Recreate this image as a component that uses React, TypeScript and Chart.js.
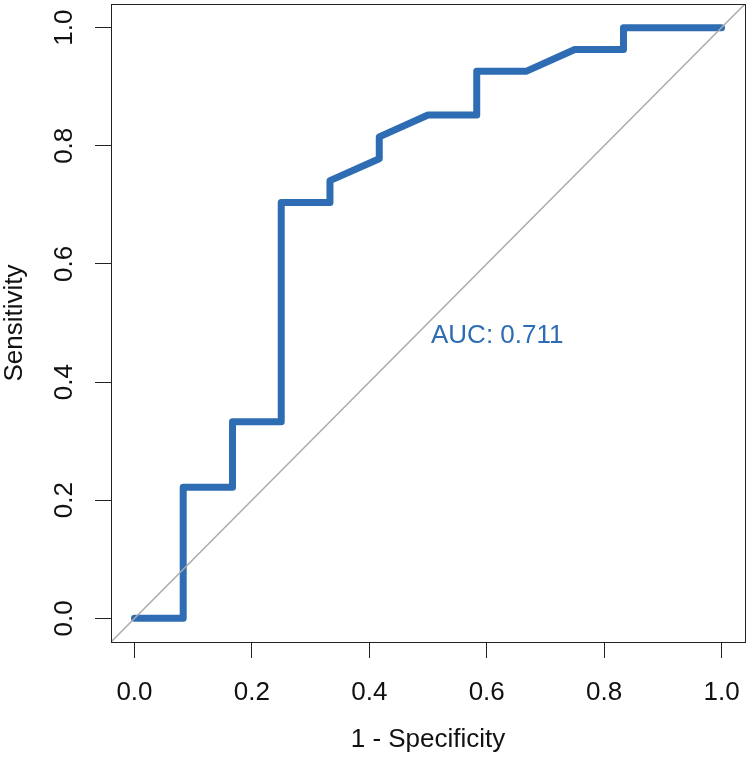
import { useEffect, useRef } from 'react';
import { Chart, registerables } from 'chart.js';

Chart.register(...registerables);

// ROC curve points: x = 1 - Specificity, y = Sensitivity
const FPR = [0, 0.083, 0.083, 0.167, 0.167, 0.25, 0.25, 0.333, 0.333, 0.417, 0.417, 0.5, 0.583, 0.583, 0.667, 0.75, 0.833, 0.833, 1];
const TPR = [0, 0, 0.222, 0.222, 0.333, 0.333, 0.704, 0.704, 0.741, 0.778, 0.815, 0.852, 0.852, 0.926, 0.926, 0.963, 0.963, 1, 1];

// chance diagonal, drawn edge to edge of the plot box
const DIAG_X = [-0.04, 1.04];
const DIAG_Y = [-0.04, 1.04];

const TICKS = [0, 0.2, 0.4, 0.6, 0.8, 1.0];
const TICK_LABELS = ['0.0', '0.2', '0.4', '0.6', '0.8', '1.0'];
const AXIS_MIN = -0.04;
const AXIS_MAX = 1.04;

const X_TITLE = '1 - Specificity';
const Y_TITLE = 'Sensitivity';
const AUC_LABEL = 'AUC: 0.711';
const AUC_POS = [0.5, 0.5];

const FONT = '"Liberation Sans", Arial, Helvetica, sans-serif';
const FONT_SIZE = 26;
const ROC_COLOR = '#2E6DB4';

const decorPlugin = {
  id: 'decor',
  afterDraw(chart: any) {
    const { ctx, chartArea, scales } = chart;
    const { left, right, top, bottom } = chartArea;
    const x = scales.x;
    const y = scales.y;
    ctx.save();
    // box
    ctx.strokeStyle = '#222';
    ctx.lineWidth = 1;
    ctx.strokeRect(left + 0.5, top + 0.5, right - left, bottom - top);

    ctx.fillStyle = '#111';
    ctx.font = `${FONT_SIZE}px ${FONT}`;
    ctx.textAlign = 'center';
    ctx.textBaseline = 'middle';
    // y tick labels, rotated
    TICKS.forEach((v, i) => {
      const py = y.getPixelForValue(v);
      ctx.save();
      ctx.translate(65, py);
      ctx.rotate(-Math.PI / 2);
      ctx.fillText(TICK_LABELS[i], 0, 0);
      ctx.restore();
    });
    // y title
    ctx.save();
    ctx.translate(15, (top + bottom) / 2);
    ctx.rotate(-Math.PI / 2);
    ctx.fillText(Y_TITLE, 0, 0);
    ctx.restore();
    // x title
    ctx.fillText(X_TITLE, (left + right) / 2, 740);

    // AUC label
    ctx.fillStyle = ROC_COLOR;
    ctx.textAlign = 'left';
    ctx.textBaseline = 'alphabetic';
    ctx.fillText(AUC_LABEL, x.getPixelForValue(AUC_POS[0]) + 3, y.getPixelForValue(AUC_POS[1]) + 20);
    ctx.restore();
  },
};

export default function App() {
  const ref = useRef<HTMLCanvasElement>(null);

  useEffect(() => {
    const canvas = ref.current;
    if (!canvas) return;
    const setTicks = (scale: any) => {
      scale.ticks = TICKS.map((v) => ({ value: v }));
    };
    const chart = new Chart(canvas, {
      type: 'scatter',
      data: {
        datasets: [
          {
            data: DIAG_X.map((v, i) => ({ x: v, y: DIAG_Y[i] })),
            showLine: true,
            borderColor: '#AAAAAA',
            borderWidth: 1.5,
            pointRadius: 0,
            fill: false,
          },
          {
            data: FPR.map((v, i) => ({ x: v, y: TPR[i] })),
            showLine: true,
            borderColor: ROC_COLOR,
            borderWidth: 7,
            borderCapStyle: 'round',
            borderJoinStyle: 'round',
            pointRadius: 0,
            fill: false,
          },
        ],
      },
      options: {
        animation: false,
        responsive: false,
        devicePixelRatio: 1,
        layout: { padding: { top: 4, right: 6, left: 0, bottom: 0 } },
        plugins: {
          legend: { display: false },
          tooltip: { enabled: false },
          title: { display: false },
        },
        scales: {
          x: {
            type: 'linear',
            min: AXIS_MIN,
            max: AXIS_MAX,
            afterBuildTicks: setTicks,
            afterFit: (scale: any) => {
              scale.height = 117;
              scale.paddingLeft = 0;
              scale.paddingRight = 0;
            },
            border: { display: false },
            grid: {
              display: true,
              drawOnChartArea: false,
              drawTicks: true,
              tickLength: 16,
              color: '#222',
              lineWidth: 1,
            },
            ticks: {
              color: '#111',
              padding: 19,
              maxRotation: 0,
              minRotation: 0,
              font: { family: FONT, size: FONT_SIZE },
              callback: (v: any) => {
                const i = TICKS.findIndex((t) => Math.abs(t - Number(v)) < 1e-9);
                return i >= 0 ? TICK_LABELS[i] : '';
              },
            },
          },
          y: {
            type: 'linear',
            min: AXIS_MIN,
            max: AXIS_MAX,
            afterBuildTicks: setTicks,
            afterFit: (scale: any) => {
              scale.width = 111;
              scale.paddingTop = 0;
              scale.paddingBottom = 0;
            },
            border: { display: false },
            grid: {
              display: true,
              drawOnChartArea: false,
              drawTicks: true,
              tickLength: 16,
              color: '#222',
              lineWidth: 1,
            },
            ticks: {
              display: false,
            },
          },
        },
      },
      plugins: [decorPlugin],
    } as any);
    return () => chart.destroy();
  }, []);

  return (
    <div style={{ position: 'fixed', left: 0, top: 0, width: 751, height: 759, background: '#fff' }}>
      <canvas ref={ref} width={751} height={759} style={{ display: 'block', width: 751, height: 759 }} />
    </div>
  );
}
